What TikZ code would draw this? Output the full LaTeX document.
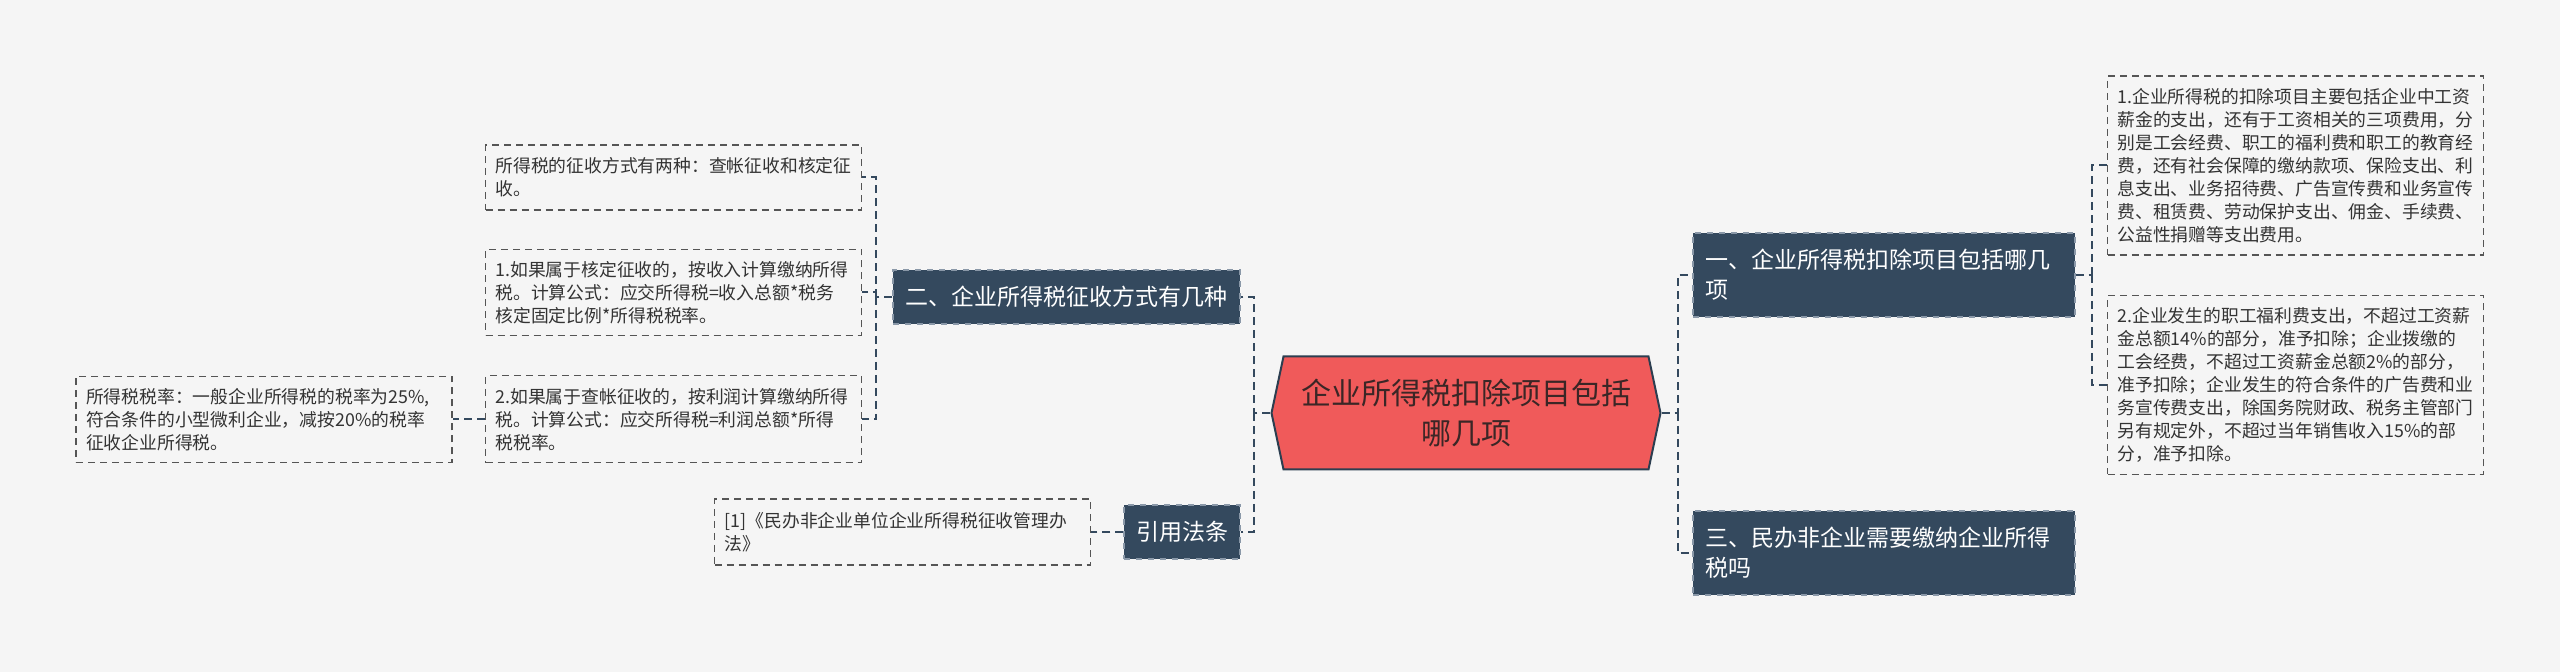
\documentclass[tikz,border=0pt]{standalone}
\usepackage{fontspec}
\setmainfont{Noto Sans CJK SC}
\usetikzlibrary{shapes.symbols, positioning}
\definecolor{mapBg}{HTML}{F5F5F5}
\definecolor{mapRed}{HTML}{F05A5A}
\definecolor{mapNavy}{HTML}{34495E}
\definecolor{mapDeep}{HTML}{2C3E50}
\definecolor{mapEdge}{HTML}{8A98A8}
\definecolor{mapGrey}{HTML}{555555}
\definecolor{mapInk}{HTML}{333333}
\definecolor{mapRootInk}{HTML}{3B2626}

\begin{document}
\begin{tikzpicture}[x=0.5pt, y=-0.5pt,
        root/.style={signal, signal to=west and east, signal pointer angle=156, draw=mapDeep, line width=1pt, fill=mapRed, text=mapRootInk, align=center, inner sep=0pt, minimum width=194.5pt, minimum height=56.5pt, font=\fontsize{15pt}{20pt}\selectfont},
        topic/.style={draw=mapEdge, dashed, line width=0.6pt, fill=mapNavy, text=white, align=left, inner xsep=6pt, minimum height=27pt, font=\fontsize{11.5pt}{15pt}\selectfont},
        leaf/.style={draw=mapGrey, dash pattern=on 3.5pt off 2.5pt, line width=0.7pt, fill=mapBg, text=mapInk, align=left, text width=178pt, inner xsep=5pt, font=\fontsize{8.9pt}{11.5pt}\selectfont},
        link/.style={mapNavy, line width=1pt, dash pattern=on 4pt off 2.5pt}]
        \path[fill=mapBg, use as bounding box] (0,0) rectangle (2560,672);
        \node[root] (c) at (1466,413) {企业所得税扣除项目包括\\哪几项};
        \node[topic, minimum width=173.5pt] (n2) at (1066.5,297) {二、企业所得税征收方式有几种};
        \node[topic] (law) at (1182,532) {引用法条};
        \node[topic, text width=179pt, minimum height=42pt] (n1) at (1884,275) {一、企业所得税扣除项目包括哪几\\项};
        \node[topic, text width=179pt, minimum height=42pt] (n3) at (1884,553) {三、民办非企业需要缴纳企业所得\\税吗};
        \node[leaf, minimum height=32.5pt] (l1) at (673.5,177.5) {所得税的征收方式有两种：查帐征收和核定征\\收。};
        \node[leaf, minimum height=43pt, below=19pt of l1] (l2) {1.如果属于核定征收的，按收入计算缴纳所得\\税。计算公式：应交所得税=收入总额*税务\\核定固定比例*所得税税率。};
        \node[leaf, minimum height=43.5pt, below=19.5pt of l2] (l3) {2.如果属于查帐征收的，按利润计算缴纳所得\\税。计算公式：应交所得税=利润总额*所得\\税税率。};
        \node[leaf, minimum height=43pt, left=16pt of l3] (rate) {所得税税率：一般企业所得税的税率为25\%,\\符合条件的小型微利企业，减按20\%的税率\\征收企业所得税。};
        \node[leaf, minimum height=33pt, left=16pt of law] (cite) {[1]《民办非企业单位企业所得税征收管理办\\法》};
        \node[leaf, minimum height=89.5pt] (r1) at (2295.5,165.5) {1.企业所得税的扣除项目主要包括企业中工资\\薪金的支出，还有于工资相关的三项费用，分\\别是工会经费、职工的福利费和职工的教育经\\费，还有社会保障的缴纳款项、保险支出、利\\息支出、业务招待费、广告宣传费和业务宣传\\费、租赁费、劳动保护支出、佣金、手续费、\\公益性捐赠等支出费用。};
        \node[leaf, minimum height=89.5pt, below=19.5pt of r1] (r2) {2.企业发生的职工福利费支出，不超过工资薪\\金总额14\%的部分，准予扣除；企业拨缴的\\工会经费，不超过工资薪金总额2\%的部分，\\准予扣除；企业发生的符合条件的广告费和业\\务宣传费支出，除国务院财政、税务主管部门\\另有规定外，不超过当年销售收入15\%的部\\分，准予扣除。};
        \coordinate (jl) at ([xshift=-8pt]c.west);
        \coordinate (jr) at ([xshift=8pt]c.east);
        \coordinate (j2) at ([xshift=-8pt]n2.west);
        \coordinate (j1) at ([xshift=8pt]n1.east);
        \draw[link] (c.west) -- (jl) |- (n2.east);
        \draw[link] (jl) |- (law.east);
        \draw[link] (c.east) -- (jr) |- (n1.west);
        \draw[link] (jr) |- (n3.west);
        \draw[link] (n2.west) -- (j2);
        \foreach \t in {l1,l2,l3} \draw[link] (j2) |- (\t.east);
        \draw[link] (l3.west) -- (rate.east);
        \draw[link] (law.west) -- (cite.east);
        \draw[link] (n1.east) -- (j1);
        \foreach \t in {r1,r2} \draw[link] (j1) |- (\t.west);
      \end{tikzpicture}
\end{document}
